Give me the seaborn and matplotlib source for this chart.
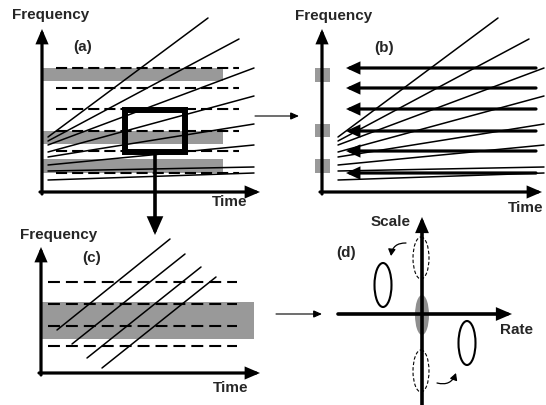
import numpy as np
import pandas as pd
import matplotlib
matplotlib.use("Agg")
import matplotlib.pyplot as plt
from matplotlib.patches import Ellipse, Rectangle, FancyArrowPatch
import seaborn as sns

# ---------------------------------------------------------------------------
# Sketch values.  Each panel has its own local frame: x = time (to the right),
# y = frequency / scale (upwards), measured from the panel's axis corner.
# ---------------------------------------------------------------------------

# panels (a) and (b): rising chirps over a harmonic spectrum
chirp_t0 = [6, 6, 6, 6, 6, 6, 6, 6]
chirp_f0 = [55, 51, 47, 40, 35, 27, 21, 12]
chirp_t1 = [166, 197, 212, 212, 212, 212, 212, 212]
chirp_f1 = [174, 153, 124, 96, 68, 47, 25, 19]
harmonic_levels = [124, 104, 83, 61, 41, 19]
band_lo = [111, 48, 19]
band_hi = [124, 61, 33]
square_lo = [110, 55, 19]
square_hi = [124, 68, 33]

# panel (c): zoomed patch of the spectrogram
zoom_t0 = [16, 31, 46, 61]
zoom_f0 = [43, 29, 15, 5]
zoom_t1 = [129, 144, 160, 175]
zoom_f1 = [134, 119, 106, 96]
zoom_levels = [91, 69, 47, 27]
zoom_band = [34, 71]

# panel (d): rate-scale plane, ellipse centres and sizes
blob_rate = [0]
blob_scale = [-1]
ghost_rate = [-1, -1]
ghost_scale = [56, -57]
lobe_rate = [-39, 45]
lobe_scale = [29, -29]

labels_freq = "Frequency"
labels_time = "Time"
panel_tags = ["(a)", "(b)", "(c)", "(d)"]

# panel corners in figure pixels
ORIGIN_A = (42, 192)
ORIGIN_B = (322, 192)
ORIGIN_C = (41, 373)
ORIGIN_D = (422, 314)
SHIFT_B = 10          # chirps in (b) sit a little further right

GREY = "#999999"
FONT = dict(family="Liberation Sans", weight="bold", fontsize=11)

sns.set_theme(style="white")
plt.rcParams["lines.scale_dashes"] = False


def px(origin, x, y):
    """Local panel coordinates -> figure pixels (y grows downward)."""
    return origin[0] + np.asarray(x, float), origin[1] - np.asarray(y, float)


def arrow(ax, p0, p1, lw, hl, hw, **kw):
    ax.annotate("", xy=p1, xytext=p0,
                arrowprops=dict(arrowstyle=f"-|>,head_length={hl},head_width={hw}",
                                lw=lw, color="black", shrinkA=0, shrinkB=0,
                                mutation_scale=1, joinstyle="miter", **kw))


fig = plt.figure(figsize=(5.46, 4.05), dpi=100)
ax = fig.add_axes([0, 0, 1, 1])

# ---- chirp lines for (a), (b) and (c) through seaborn -----------------------
rows = []
for i in range(len(chirp_t0)):
    xa, ya = px(ORIGIN_A, [chirp_t0[i], chirp_t1[i]], [chirp_f0[i], chirp_f1[i]])
    rows += [("a", i, xa[0], ya[0]), ("a", i, xa[1], ya[1])]
    xb, yb = px(ORIGIN_B, [chirp_t0[i] + SHIFT_B, chirp_t1[i] + SHIFT_B],
                [chirp_f0[i], chirp_f1[i]])
    rows += [("b", i, xb[0], yb[0]), ("b", i, xb[1], yb[1])]
for i in range(len(zoom_t0)):
    xc, yc = px(ORIGIN_C, [zoom_t0[i], zoom_t1[i]], [zoom_f0[i], zoom_f1[i]])
    rows += [("c", i, xc[0], yc[0]), ("c", i, xc[1], yc[1])]
chirps = pd.DataFrame(rows, columns=["panel", "chirp", "x", "y"])
chirps["unit"] = chirps["panel"] + chirps["chirp"].astype(str)
sns.lineplot(data=chirps, x="x", y="y", units="unit", estimator=None, sort=False,
             color="black", linewidth=1.1, ax=ax, zorder=4, legend=False)

dash_a = (0, (8, 3.6))
dash_c = (0, (8.6, 4.3))

# ---- panel (a) -------------------------------------------------------------
for lo, hi in zip(band_lo, band_hi):
    x0, y0 = px(ORIGIN_A, -1, hi)
    ax.add_patch(Rectangle((x0, y0), 182, hi - lo, color=GREY, lw=0, zorder=1))
for lv in harmonic_levels:
    xs, ys = px(ORIGIN_A, [14, 197], [lv, lv])
    ax.plot(xs, ys, color="black", lw=1.5, linestyle=dash_a, zorder=2)
ax.add_patch(Rectangle((125, 110), 60, 42, fill=False, lw=4.3, ec="black",
                       joinstyle="miter", zorder=5))
arrow(ax, px(ORIGIN_A, 0, -2), px(ORIGIN_A, 0, 163), 2.3, 7, 3)
arrow(ax, px(ORIGIN_A, -2, 0), px(ORIGIN_A, 218, 0), 2.3, 7, 3)

# ---- panel (b) -------------------------------------------------------------
for lo, hi in zip(square_lo, square_hi):
    x0, y0 = px(ORIGIN_B, -7, hi)
    ax.add_patch(Rectangle((x0, y0), 15, hi - lo, color=GREY, lw=0, zorder=3))
for lv in harmonic_levels:
    arrow(ax, px(ORIGIN_B, 214, lv), px(ORIGIN_B, 24, lv), 2.3, 6.5, 3.0)
arrow(ax, px(ORIGIN_B, 0, -2), px(ORIGIN_B, 0, 163), 2.3, 7, 3)
arrow(ax, px(ORIGIN_B, -2, 0), px(ORIGIN_B, 220, 0), 2.3, 7, 3)

# ---- panel (c) -------------------------------------------------------------
x0, y0 = px(ORIGIN_C, 0, zoom_band[1])
ax.add_patch(Rectangle((x0, y0), 213, zoom_band[1] - zoom_band[0], color=GREY,
                       lw=0, zorder=1))
for lv in zoom_levels:
    xs, ys = px(ORIGIN_C, [7, 196], [lv, lv])
    ax.plot(xs, ys, color="black", lw=1.5, linestyle=dash_c, zorder=2)
arrow(ax, px(ORIGIN_C, 0, -2), px(ORIGIN_C, 0, 126), 2.3, 7, 3)
arrow(ax, px(ORIGIN_C, -2, 0), px(ORIGIN_C, 219, 0), 2.3, 7, 3)

# ---- panel (d) -------------------------------------------------------------
for r, s in zip(blob_rate, blob_scale):
    ax.add_patch(Ellipse(px(ORIGIN_D, r, s), 14, 40, color="#8f8f8f", lw=0, zorder=1))
for r, s in zip(ghost_rate, ghost_scale):
    ax.add_patch(Ellipse(px(ORIGIN_D, r, s), 16, 42, fill=False, ec="black",
                         lw=0.8, linestyle=(0, (2.5, 1.5)), zorder=3))
for r, s in zip(lobe_rate, lobe_scale):
    ax.add_patch(Ellipse(px(ORIGIN_D, r, s), 17, 44, fill=False, ec="black",
                         lw=1.5, zorder=3))
arrow(ax, px(ORIGIN_D, 0, -95), px(ORIGIN_D, 0, 97), 2.6, 7, 3)
arrow(ax, px(ORIGIN_D, -84, 0), px(ORIGIN_D, 90, 0), 2.6, 7, 3)
for a, b in [((406, 243), (391, 256)), ((437, 383), (456, 373))]:
    ax.add_patch(FancyArrowPatch(a, b, connectionstyle="arc3,rad=0.45",
                                 arrowstyle="-|>,head_length=4,head_width=2.2",
                                 mutation_scale=1, lw=0.9, color="black",
                                 shrinkA=0, shrinkB=0, zorder=4))

# ---- connecting arrows between panels --------------------------------------
arrow(ax, (155, 152), (155, 235), 2.6, 9, 4)
arrow(ax, (255, 116), (299, 116), 0.8, 5, 2.2)
arrow(ax, (276, 314), (322, 314), 0.8, 5, 2.2)

# ---- text ------------------------------------------------------------------
ax.text(12, 15, labels_freq, ha="left", va="center", **FONT)
ax.text(73, 47, panel_tags[0], ha="left", va="center", **FONT)
ax.text(212, 202, labels_time, ha="left", va="center", **FONT)
ax.text(295, 16, labels_freq, ha="left", va="center", **FONT)
ax.text(374, 48, panel_tags[1], ha="left", va="center", **FONT)
ax.text(508, 208, labels_time, ha="left", va="center", **FONT)
ax.text(20, 235, labels_freq, ha="left", va="center", **FONT)
ax.text(82, 258, panel_tags[2], ha="left", va="center", **FONT)
ax.text(213, 388, labels_time, ha="left", va="center", **FONT)
ax.text(371, 222, "Scale", ha="left", va="center", **FONT)
ax.text(336, 253, panel_tags[3], ha="left", va="center", **FONT)
ax.text(500, 330, "Rate", ha="left", va="center", **FONT)

ax.set_xlim(0, 546)
ax.set_ylim(405, 0)
ax.axis("off")
fig.savefig("out.png", dpi=100)
